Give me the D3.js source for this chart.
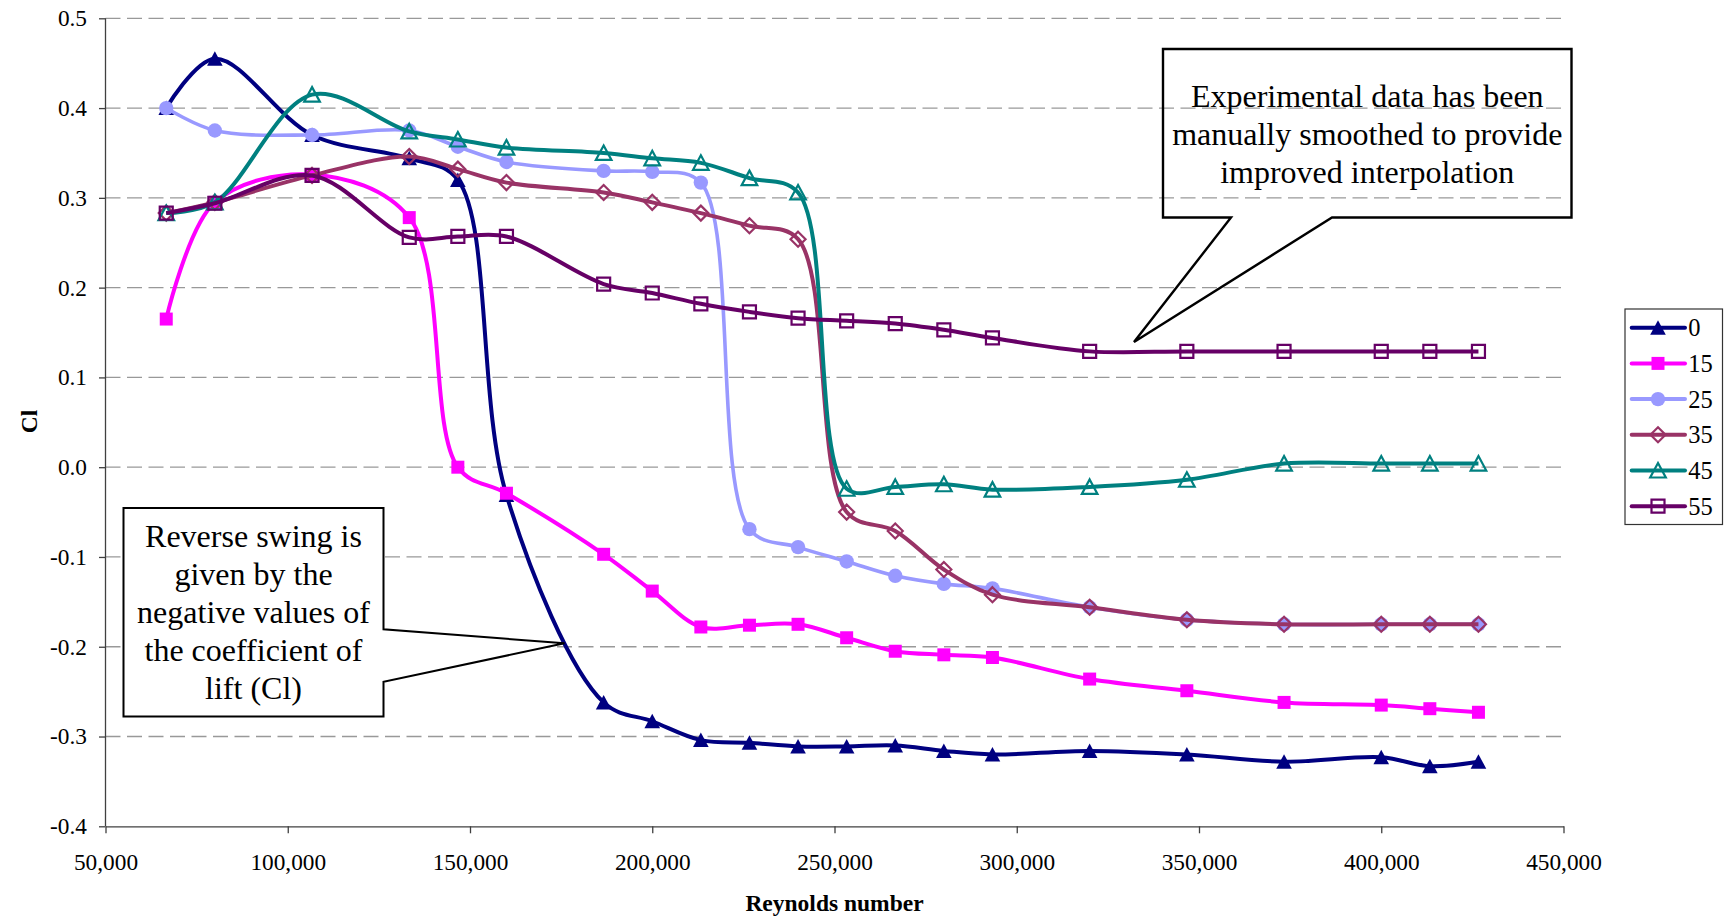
<!DOCTYPE html>
<html>
<head>
<meta charset="utf-8">
<script src="https://cdn.jsdelivr.net/npm/d3@7"></script>
<style>
  html, body { margin: 0; padding: 0; background: #fff; }
  svg text { font-family: "Liberation Serif", "Times New Roman", serif; }
</style>
</head>
<body>
<div id="chart"></div>
<script>
// Cl vs Reynolds number for six seam angles (smoothed Excel-style lines)
const reynolds = [66667, 80000, 106667, 133333, 146667, 160000, 186667, 200000, 213333, 226667,
  240000, 253333, 266667, 280000, 293333, 320000, 346667, 373333, 400000, 413333, 426667];

const cl0 = [0.400, 0.455, 0.370, 0.344, 0.320, -0.031, -0.262, -0.283, -0.304, -0.307,
  -0.311, -0.311, -0.310, -0.316, -0.320, -0.316, -0.320, -0.328, -0.323, -0.333, -0.328];
const cl15 = [0.165, 0.295, 0.326, 0.278, 0.000, -0.029, -0.097, -0.138, -0.178, -0.176,
  -0.175, -0.190, -0.205, -0.209, -0.212, -0.236, -0.249, -0.262, -0.265, -0.269, -0.273];
const cl25 = [0.400, 0.375, 0.370, 0.375, 0.357, 0.340, 0.330, 0.329, 0.317, -0.069,
  -0.089, -0.105, -0.121, -0.130, -0.135, -0.156, -0.170, -0.175, -0.175, -0.175, -0.175];
const cl35 = [0.283, 0.295, 0.325, 0.346, 0.332, 0.317, 0.306, 0.295, 0.283, 0.269,
  0.254, -0.050, -0.071, -0.114, -0.142, -0.156, -0.170, -0.175, -0.175, -0.175, -0.175];
const cl45 = [0.283, 0.295, 0.415, 0.374, 0.365, 0.356, 0.350, 0.344, 0.339, 0.322,
  0.306, -0.024, -0.022, -0.019, -0.025, -0.022, -0.014, 0.004, 0.004, 0.004, 0.004];
const cl55 = [0.283, 0.294, 0.325, 0.256, 0.257, 0.257, 0.204, 0.194, 0.182, 0.173,
  0.166, 0.163, 0.160, 0.153, 0.144, 0.129, 0.129, 0.129, 0.129, 0.129, 0.129];

const seriesNames = ["0", "15", "25", "35", "45", "55"];
const seriesValues = [cl0, cl15, cl25, cl35, cl45, cl55];
const seriesColors = ["#000080", "#ff00ff", "#9999ff", "#993366", "#008080", "#660066"];
const seriesMarkers = ["triangleFilled", "squareFilled", "circleFilled", "diamondOpen", "triangleOpen", "squareOpen"];

const xTicks = [50000, 100000, 150000, 200000, 250000, 300000, 350000, 400000, 450000];
const yTicks = [0.5, 0.4, 0.3, 0.2, 0.1, 0.0, -0.1, -0.2, -0.3, -0.4];

const noteTop = ["Experimental data has been", "manually smoothed to provide", "improved interpolation"];
const noteBottom = ["Reverse swing is", "given by the", "negative values of", "the coefficient of", "lift (Cl)"];

(function () {
  const FONT = '"Liberation Serif", "Times New Roman", serif';
  const width = 1724;
  const height = 918;
  const plot = { left: 105.5, right: 1563.5, top: 18.3, bottom: 826.3 };

  const svg = d3.select("#chart").append("svg").attr("width", width).attr("height", height)
    .attr("font-family", FONT);
  svg.append("rect").attr("width", width).attr("height", height).attr("fill", "#fff");

  const x = d3.scaleLinear().domain([50000, 450000]).range([plot.left, plot.right]);
  const y = d3.scaleLinear().domain([-0.4, 0.5]).range([plot.bottom, plot.top]);

  // gridlines
  svg.append("g")
    .selectAll("line")
    .data(yTicks.filter((t) => t > -0.4))
    .join("line")
    .attr("x1", plot.left)
    .attr("x2", plot.right)
    .attr("y1", (d) => y(d))
    .attr("y2", (d) => y(d))
    .attr("stroke", "#999")
    .attr("stroke-width", 1.3)
    .attr("stroke-dasharray", "15,6.5");

  // axes (hyphen minus like the original, not U+2212)
  const yFormat = (d) => d3.format(".1f")(d).replace("\u2212", "-");
  const yAxis = svg.append("g")
    .attr("transform", `translate(${plot.left},0)`)
    .call(d3.axisLeft(y).tickValues(yTicks).tickFormat(yFormat).tickSize(6.5).tickSizeOuter(0).tickPadding(12));
  const xAxis = svg.append("g")
    .attr("transform", `translate(0,${plot.bottom})`)
    .call(d3.axisBottom(x).tickValues(xTicks).tickFormat(d3.format(",")).tickSize(7).tickSizeOuter(0).tickPadding(20));

  [xAxis, yAxis].forEach((ax) => {
    ax.attr("font-family", FONT).attr("font-size", 23.3);
    ax.select(".domain").attr("stroke", "#404040").attr("stroke-width", 1.3);
    ax.selectAll(".tick line").attr("stroke", "#404040").attr("stroke-width", 1.3);
    ax.selectAll(".tick text").attr("fill", "#000");
  });
  yAxis.select(".domain").attr("d", `M0,${plot.top}V${plot.bottom}`);

  // axis titles
  svg.append("text")
    .attr("x", (plot.left + plot.right) / 2)
    .attr("y", 911)
    .attr("text-anchor", "middle")
    .attr("font-weight", "bold")
    .attr("font-size", 23.5)
    .text("Reynolds number");

  svg.append("text")
    .attr("transform", "translate(29,421.5) rotate(-90)")
    .attr("text-anchor", "middle")
    .attr("dominant-baseline", "central")
    .attr("font-weight", "bold")
    .attr("font-size", 23.5)
    .text("Cl");

  // marker shapes
  function markerPath(type) {
    if (type.startsWith("triangle")) return "M0,-7.5L7.8,7L-7.8,7Z";
    if (type.startsWith("square")) return "M-6.5,-6.5H6.5V6.5H-6.5Z";
    if (type === "diamondOpen") return "M0,-7.5L7.5,0L0,7.5L-7.5,0Z";
    return d3.symbol(d3.symbolCircle, Math.PI * 7.2 * 7.2)();
  }
  function styleMarker(sel, type, color) {
    const filled = type.endsWith("Filled");
    sel.attr("d", markerPath(type))
      .attr("fill", filled ? color : "none")
      .attr("stroke", filled ? "none" : color)
      .attr("stroke-width", filled ? 0 : 2.2);
  }

  const line = d3.line()
    .x((d) => x(d.re))
    .y((d) => y(d.cl))
    .curve(d3.curveCatmullRom.alpha(0.5));

  seriesNames.forEach((name, i) => {
    const points = reynolds.map((re, j) => ({ re, cl: seriesValues[i][j] }));
    const g = svg.append("g").attr("class", `series-${name}`);
    g.append("path")
      .datum(points)
      .attr("d", line)
      .attr("fill", "none")
      .attr("stroke", seriesColors[i])
      .attr("stroke-width", i === 2 ? 3.6 : 4)
      .attr("stroke-linejoin", "round");
    g.selectAll("path.marker")
      .data(points)
      .join("path")
      .attr("class", "marker")
      .attr("transform", (d) => `translate(${x(d.re)},${y(d.cl)})`)
      .call(styleMarker, seriesMarkers[i], seriesColors[i]);
  });

  // callout: smoothed data note (transparent box)
  const topBox = { x0: 1163, x1: 1571.5, y0: 49, y1: 217.5 };
  svg.append("path")
    .attr("d", `M${topBox.x0},${topBox.y0}H${topBox.x1}V${topBox.y1}H1332L1134,342L1231,${topBox.y1}H${topBox.x0}Z`)
    .attr("fill", "none")
    .attr("stroke", "#000")
    .attr("stroke-width", 2.4);
  svg.append("text")
    .attr("text-anchor", "middle")
    .attr("font-size", 32)
    .selectAll("tspan")
    .data(noteTop)
    .join("tspan")
    .attr("x", (topBox.x0 + topBox.x1) / 2)
    .attr("y", (d, i) => 106.7 + i * 38)
    .text((d) => d);

  // callout: reverse swing note (white box)
  const botBox = { x0: 123.5, x1: 383.5, y0: 508, y1: 716.5 };
  svg.append("path")
    .attr("d", `M${botBox.x0},${botBox.y0}H${botBox.x1}V629.3L564.5,643.3L${botBox.x1},681.7V${botBox.y1}H${botBox.x0}Z`)
    .attr("fill", "#fff")
    .attr("stroke", "#000")
    .attr("stroke-width", 2);
  svg.append("text")
    .attr("text-anchor", "middle")
    .attr("font-size", 32)
    .selectAll("tspan")
    .data(noteBottom)
    .join("tspan")
    .attr("x", (botBox.x0 + botBox.x1) / 2)
    .attr("y", (d, i) => 546.7 + i * 38.1)
    .text((d) => d);

  // legend
  const legend = svg.append("g");
  legend.append("rect")
    .attr("x", 1625).attr("y", 309)
    .attr("width", 97.5).attr("height", 215.5)
    .attr("fill", "#fff")
    .attr("stroke", "#333")
    .attr("stroke-width", 1.2);

  const rows = legend.selectAll("g.row")
    .data(seriesNames)
    .join("g")
    .attr("class", "row")
    .attr("transform", (d, i) => `translate(0,${327.7 + i * 35.7})`);
  rows.append("line")
    .attr("x1", 1631.7).attr("x2", 1685)
    .attr("stroke", (d, i) => seriesColors[i])
    .attr("stroke-width", 4)
    .attr("stroke-linecap", "round");
  rows.append("path")
    .attr("class", "marker")
    .attr("transform", "translate(1658,0)")
    .each(function (d, i) {
      d3.select(this).call(styleMarker, seriesMarkers[i], seriesColors[i]);
    });
  rows.append("text")
    .attr("x", 1688.3)
    .attr("dy", "0.35em")
    .attr("font-size", 24.5)
    .text((d) => d);
})();
</script>
</body>
</html>
